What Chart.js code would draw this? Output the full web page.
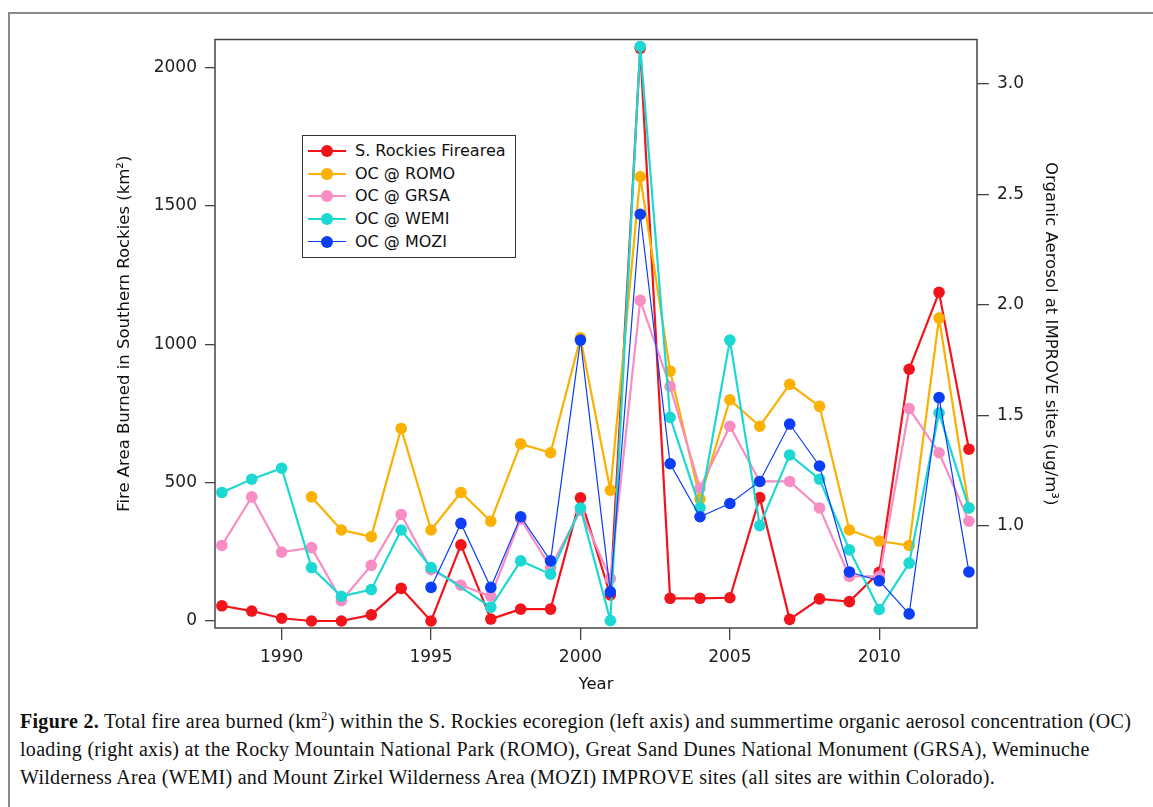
<!DOCTYPE html>
<html>
<head>
<meta charset="utf-8">
<script src="https://cdn.jsdelivr.net/npm/chart.js@4.4.1/dist/chart.umd.min.js"></script>
<style>
  body { margin: 0; background: #fff; width: 1153px; height: 807px; overflow: hidden; position: relative; }
  #frame { position: absolute; left: 8px; top: 12px; width: 1160px; height: 810px; border-left: 2px solid #8a8a8a; border-top: 2px solid #8a8a8a; }
  #wrap { position: absolute; left: 100px; top: 0; width: 975px; height: 705px; }
  #legend { position: absolute; left: 302px; top: 135px; width: 212px; height: 121px; border: 1px solid #333; background: #fff;
            font-family: "DejaVu Sans", sans-serif; font-size: 16px; color: #111; }
  .row { position: absolute; left: 0; height: 22px; width: 100%; }
  .row .ln { position: absolute; left: 5px; width: 38px; top: 10px; height: 2px; }
  .row .dot { position: absolute; left: 18px; top: 5px; width: 12px; height: 12px; border-radius: 50%; }
  .row .tx { position: absolute; left: 52px; top: 0; line-height: 22px; white-space: nowrap; }
  #caption { position: absolute; left: 20px; top: 707px; font-family: "Liberation Serif", serif; font-size: 20px; letter-spacing: 0.3px;
             color: #111; line-height: 28px; white-space: nowrap; }
  #caption sup { font-size: 12px; vertical-align: 8px; line-height: 0; }
</style>
</head>
<body>
<div id="frame"></div>
<div id="wrap"><canvas id="ocChart"></canvas></div>
<div id="legend"></div>
<div id="caption">
  <div><b>Figure 2.</b> Total fire area burned (km<sup>2</sup>) within the S. Rockies ecoregion (left axis) and summertime organic aerosol concentration (OC)</div>
  <div>loading (right axis) at the Rocky Mountain National Park (ROMO), Great Sand Dunes National Monument (GRSA), Weminuche</div>
  <div>Wilderness Area (WEMI) and Mount Zirkel Wilderness Area (MOZI) IMPROVE sites (all sites are within Colorado).</div>
</div>
<script>
// data
const years = [1988, 1989, 1990, 1991, 1992, 1993, 1994, 1995, 1996, 1997, 1998, 1999, 2000,
               2001, 2002, 2003, 2004, 2005, 2006, 2007, 2008, 2009, 2010, 2011, 2012, 2013];
const fireArea = [55, 36, 10, 0, 0, 22, 118, 0, 275, 7, 43, 43, 445,
                  94, 2070, 82, 82, 84, 446, 6, 80, 70, 176, 910, 1188, 621];
const ocROMO = [null, null, null, 1.13, 0.98, 0.95, 1.44, 0.98, 1.15, 1.02, 1.37, 1.33, 1.85,
                1.16, 2.58, 1.70, 1.12, 1.57, 1.45, 1.64, 1.54, 0.98, 0.93, 0.91, 1.94, 1.08];
const ocGRSA = [0.91, 1.13, 0.88, 0.90, 0.66, 0.82, 1.05, 0.80, 0.73, 0.68, 1.03, 0.81, 1.07,
                0.76, 2.02, 1.63, 1.17, 1.45, 1.20, 1.20, 1.08, 0.77, 0.77, 1.53, 1.33, 1.02];
const ocWEMI = [1.15, 1.21, 1.26, 0.81, 0.68, 0.71, 0.98, 0.81, null, 0.63, 0.84, 0.78, 1.08,
                0.57, 3.17, 1.49, 1.08, 1.84, 1.00, 1.32, 1.21, 0.89, 0.62, 0.83, 1.51, 1.08];
const ocMOZI = [null, null, null, null, null, null, null, 0.72, 1.01, 0.72, 1.04, 0.84, 1.84,
                0.70, 2.41, 1.28, 1.04, 1.10, 1.20, 1.46, 1.27, 0.79, 0.75, 0.60, 1.58, 0.79];

const yearTicks = [1990, 1995, 2000, 2005, 2010];
const fireTicks = [0, 500, 1000, 1500, 2000];
const ocTicks = [1.0, 1.5, 2.0, 2.5, 3.0];

const toPoints = (vals) => years.map((yr, i) => ({ x: yr, y: vals[i] }));

const tickFont = { family: "DejaVu Sans", size: 17 };
const titleFont = { family: "DejaVu Sans", size: 16.5 };

function series(label, vals, color, axis, width, order) {
  return {
    label: label,
    data: toPoints(vals),
    yAxisID: axis,
    borderColor: color,
    backgroundColor: color,
    pointBackgroundColor: color,
    pointBorderColor: color,
    pointBorderWidth: 0,
    pointRadius: 5.8,
    borderWidth: width,
    tension: 0,
    spanGaps: true,
    clip: false,
    order: order,
  };
}

// box around the plot area
const frameBox = {
  id: "frameBox",
  beforeDatasetsDraw(chart) {
    const a = chart.chartArea;
    const ctx = chart.ctx;
    ctx.save();
    ctx.strokeStyle = "#444";
    ctx.lineWidth = 1.5;
    ctx.strokeRect(a.left, a.top, a.right - a.left, a.bottom - a.top);
    ctx.restore();
  },
};

const chart = new Chart(document.getElementById("ocChart").getContext("2d"), {
  type: "line",
  data: {
    datasets: [
      series("S. Rockies Firearea", fireArea, "#f2141b", "yFire", 2.2, 5),
      series("OC @ ROMO", ocROMO, "#fcb000", "yOC", 2.2, 4),
      series("OC @ GRSA", ocGRSA, "#f78dc2", "yOC", 2.2, 3),
      series("OC @ WEMI", ocWEMI, "#1cd8d2", "yOC", 2.2, 2),
      series("OC @ MOZI", ocMOZI, "#0b3ef5", "yOC", 1.2, 1),
    ],
  },
  options: {
    responsive: true,
    maintainAspectRatio: false,
    animation: false,
    events: [],
    layout: { padding: { top: 39.5, left: 0, right: 0, bottom: 0 } },
    plugins: { legend: { display: false }, tooltip: { enabled: false } },
    scales: {
      x: {
        type: "linear",
        min: 1987.77,
        max: 2013.27,
        afterBuildTicks: (s) => { s.ticks = yearTicks.map((v) => ({ value: v })); },
        afterFit: (s) => { s.height = 77; },
        ticks: { font: tickFont, color: "#222", padding: 7, maxRotation: 0, callback: (v) => String(v) },
        grid: { drawOnChartArea: false, drawTicks: true, tickLength: 12, color: "#444", lineWidth: 1.3 },
        border: { display: false },
        title: { display: true, text: "Year", font: titleFont, color: "#111", padding: { top: 0, bottom: 10 } },
      },
      yFire: {
        position: "left",
        min: -25.3,
        max: 2102,
        afterBuildTicks: (s) => { s.ticks = fireTicks.map((v) => ({ value: v })); },
        afterFit: (s) => { s.width = 115; },
        ticks: { font: tickFont, color: "#222", padding: 8, callback: (v) => String(v) },
        grid: { drawOnChartArea: false, drawTicks: true, tickLength: 10, color: "#444", lineWidth: 1.3 },
        border: { display: false },
        title: { display: true, text: "Fire Area Burned in Southern Rockies (km\u00b2)", font: titleFont, color: "#111", padding: { top: 15, bottom: 0 } },
      },
      yOC: {
        position: "right",
        min: 0.5362,
        max: 3.2015,
        afterBuildTicks: (s) => { s.ticks = ocTicks.map((v) => ({ value: v })); },
        afterFit: (s) => { s.width = 98; },
        ticks: { font: tickFont, color: "#222", padding: 8, callback: (v) => v.toFixed(1) },
        grid: { drawOnChartArea: false, drawTicks: true, tickLength: 12, color: "#444", lineWidth: 1.3 },
        border: { display: false },
        title: { display: true, text: "Organic Aerosol at IMPROVE sites (ug/m\u00b3)", font: titleFont, color: "#111", padding: { top: 15, bottom: 0 } },
      },
    },
  },
  plugins: [frameBox],
});

// legend inside the plot, built from the datasets
const legendEl = document.getElementById("legend");
chart.data.datasets.forEach((ds, i) => {
  const row = document.createElement("div");
  row.className = "row";
  row.style.top = (4 + i * 22.7) + "px";
  row.innerHTML =
    '<div class="ln" style="background:' + ds.borderColor + ';height:' + (ds.borderWidth > 2 ? 2 : 1) + 'px"></div>' +
    '<div class="dot" style="background:' + ds.borderColor + '"></div>' +
    '<div class="tx">' + ds.label + "</div>";
  legendEl.appendChild(row);
});
</script>
</body>
</html>
